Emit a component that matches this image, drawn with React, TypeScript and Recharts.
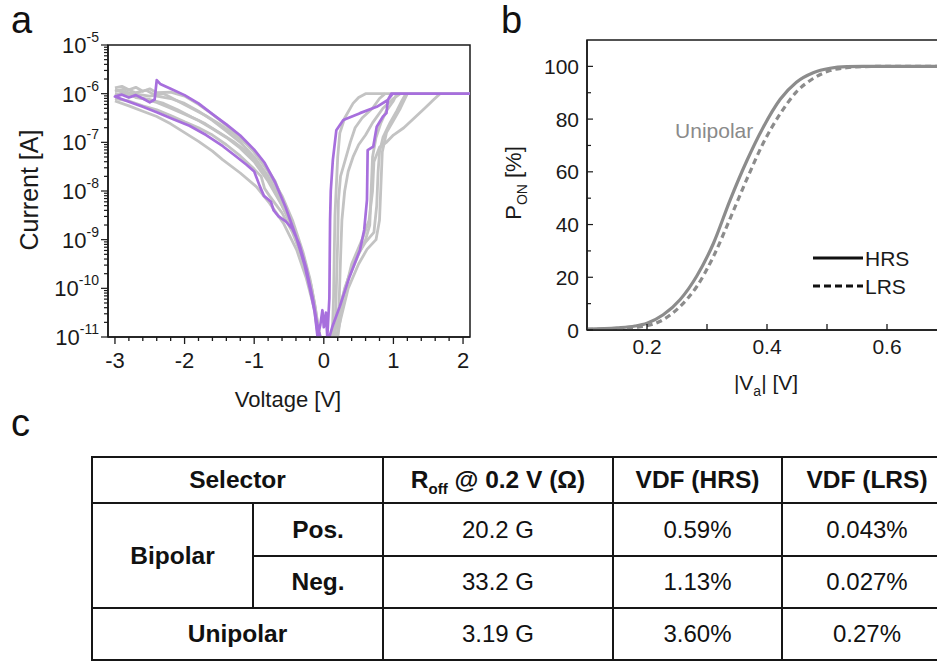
import React from 'react';
import { LineChart, Line, XAxis, YAxis, ReferenceArea, ReferenceDot, Legend, Label } from 'recharts';

const FONT = '"Liberation Sans", Arial, Helvetica, sans-serif';
const INK = '#1a1a1a';
const PURPLE = '#a76fdd';
const GRAY = '#c3c3c3';
const CURVE_GRAY = '#8c8c8c';

// ---------- Panel a : I-V cycles, [voltage (V), log10(current / A)] ----------
const purpleCycle: [number, number][] = [
  [-0.05, -11.0], [-0.1, -10.7], [-0.16, -10.2], [-0.25, -9.6], [-0.35, -9.1], [-0.45, -8.78],
  [-0.55, -8.62], [-0.65, -8.52], [-0.72, -8.4], [-0.76, -8.22], [-0.8, -8.17], [-0.86, -8.1],
  [-0.92, -7.9], [-1.0, -7.6], [-1.11, -7.46], [-1.25, -7.3], [-1.45, -7.08], [-1.69, -6.85],
  [-1.93, -6.66], [-2.17, -6.52], [-2.4, -6.38], [-2.6, -6.27], [-2.83, -6.15], [-3.0, -6.06],
  [-2.9, -6.02], [-2.8, -6.08], [-2.7, -6.03], [-2.6, -6.1], [-2.5, -6.18], [-2.43, -6.12],
  [-2.4, -5.72], [-2.35, -5.8], [-2.2, -5.9], [-2.0, -6.03], [-1.8, -6.2], [-1.6, -6.42],
  [-1.4, -6.63], [-1.2, -6.86], [-1.0, -7.15], [-0.85, -7.42], [-0.7, -7.82], [-0.55, -8.33],
  [-0.4, -8.93], [-0.28, -9.5], [-0.2, -10.0], [-0.13, -10.5], [-0.09, -11.0], [-0.05, -10.75],
  [-0.02, -10.45], [0.0, -10.8], [0.03, -10.5], [0.05, -11.0],
  [0.08, -10.2], [0.09, -8.6], [0.1, -8.0], [0.13, -7.36], [0.18, -6.75], [0.28, -6.54],
  [0.52, -6.4], [0.76, -6.27], [0.92, -6.13], [0.99, -6.0], [2.1, -6.0], [0.97, -6.0],
  [0.92, -6.13], [0.9, -6.4], [0.85, -6.47], [0.76, -6.68], [0.71, -7.09], [0.63, -7.16],
  [0.62, -8.18], [0.58, -8.8], [0.52, -9.21], [0.37, -9.76], [0.23, -10.37], [0.12, -10.8],
  [0.08, -11.0],
];

const grayNeg1: [number, number][] = [
  [-3.0, -5.88], [-2.9, -5.85], [-2.8, -5.92], [-2.7, -5.87], [-2.6, -5.95], [-2.5, -5.9],
  [-2.4, -5.98], [-2.2, -5.97], [-2.0, -6.05], [-1.8, -6.22], [-1.6, -6.42], [-1.4, -6.65],
  [-1.2, -6.9], [-1.0, -7.2], [-0.8, -7.6], [-0.6, -8.1], [-0.45, -8.6], [-0.3, -9.25],
  [-0.2, -9.8], [-0.12, -10.4], [-0.07, -11.0],
];
const grayNeg2: [number, number][] = [
  [-3.0, -5.95], [-2.85, -5.9], [-2.7, -5.98], [-2.55, -5.93], [-2.4, -6.05], [-2.2, -6.1],
  [-2.0, -6.2], [-1.8, -6.36], [-1.6, -6.55], [-1.4, -6.77], [-1.2, -7.0], [-1.0, -7.3],
  [-0.8, -7.7], [-0.6, -8.2], [-0.45, -8.65], [-0.3, -9.3], [-0.18, -9.95], [-0.1, -10.6],
  [-0.06, -11.0],
];
const grayNeg3: [number, number][] = [
  [-3.0, -6.0], [-2.8, -6.02], [-2.6, -6.1], [-2.4, -6.18], [-2.2, -6.3], [-2.0, -6.42],
  [-1.8, -6.55], [-1.6, -6.72], [-1.4, -6.9], [-1.2, -7.12], [-1.0, -7.4], [-0.8, -7.8],
  [-0.6, -8.3], [-0.45, -8.75], [-0.3, -9.35], [-0.18, -10.0], [-0.1, -10.65], [-0.05, -11.0],
];
const grayNeg4: [number, number][] = [
  [-3.0, -6.1], [-2.8, -6.15], [-2.6, -6.25], [-2.4, -6.33], [-2.2, -6.45], [-2.0, -6.58],
  [-1.8, -6.7], [-1.6, -6.85], [-1.4, -7.05], [-1.2, -7.28], [-1.0, -7.55], [-0.9, -7.7],
  [-0.85, -7.95], [-0.78, -8.1], [-0.6, -8.45], [-0.45, -8.85], [-0.3, -9.4], [-0.15, -10.2],
  [-0.08, -11.0],
];
const grayNeg5: [number, number][] = [
  [-3.0, -6.15], [-2.8, -6.25], [-2.6, -6.36], [-2.4, -6.47], [-2.2, -6.62], [-2.0, -6.8],
  [-1.8, -6.98], [-1.6, -7.18], [-1.45, -7.36], [-1.2, -7.63], [-0.97, -7.91], [-0.78, -8.25],
  [-0.58, -8.66], [-0.39, -9.21], [-0.25, -9.8], [-0.14, -10.4], [-0.08, -11.0],
];
const grayNeg6: [number, number][] = [
  [-3.0, -5.92], [-2.75, -6.0], [-2.5, -6.05], [-2.3, -6.0], [-2.1, -6.15], [-1.9, -6.3],
  [-1.7, -6.45], [-1.5, -6.62], [-1.3, -6.82], [-1.1, -7.05], [-0.9, -7.35], [-0.7, -7.8],
  [-0.5, -8.5], [-0.35, -9.1], [-0.2, -9.9], [-0.1, -10.7], [-0.06, -11.0],
];
const grayNeg7: [number, number][] = [
  [-3.0, -6.05], [-2.85, -5.95], [-2.7, -6.08], [-2.5, -6.12], [-2.3, -6.2], [-2.1, -6.33],
  [-1.9, -6.48], [-1.7, -6.62], [-1.5, -6.8], [-1.3, -6.98], [-1.1, -7.2], [-0.95, -7.45],
  [-0.8, -7.75], [-0.65, -8.15], [-0.5, -8.6], [-0.35, -9.2], [-0.22, -9.85], [-0.12, -10.5],
  [-0.07, -11.0],
];
const grayPos1: [number, number][] = [
  [0.12, -11.0], [0.14, -10.2], [0.15, -9.3], [0.16, -8.5], [0.18, -7.9], [0.2, -7.3],
  [0.23, -6.81], [0.3, -6.5], [0.42, -6.2], [0.5, -6.08], [0.6, -6.0], [2.1, -6.0],
];
const grayPos2: [number, number][] = [
  [0.16, -11.0], [0.18, -10.0], [0.2, -9.0], [0.21, -8.2], [0.24, -7.7], [0.3, -7.4],
  [0.38, -7.0], [0.45, -6.7], [0.55, -6.5], [0.7, -6.3], [0.8, -6.1], [0.88, -6.0],
];
const grayPos3: [number, number][] = [
  [0.2, -11.0], [0.22, -10.3], [0.24, -9.4], [0.26, -8.6], [0.3, -8.0], [0.35, -7.6],
  [0.42, -7.3], [0.5, -7.05], [0.6, -6.85], [0.7, -6.6], [0.85, -6.3], [1.0, -6.1], [1.1, -6.0],
];
const grayPos4: [number, number][] = [
  [0.2, -11.0], [0.28, -10.2], [0.4, -9.5], [0.55, -9.0], [0.65, -8.6], [0.7, -8.0],
  [0.72, -7.4], [0.8, -7.1], [0.9, -7.0], [1.0, -6.85], [1.15, -6.7], [1.3, -6.5],
  [1.45, -6.3], [1.58, -6.12], [1.67, -6.0],
];
const grayPos5: [number, number][] = [
  [0.1, -11.0], [0.2, -10.5], [0.35, -9.8], [0.5, -9.3], [0.6, -9.0], [0.66, -8.7],
  [0.68, -8.0], [0.7, -7.3], [0.75, -6.9], [0.82, -6.6], [0.9, -6.35], [1.0, -6.15], [1.05, -6.0],
];
const grayPos6: [number, number][] = [
  [0.14, -11.0], [0.3, -10.0], [0.45, -9.4], [0.6, -9.05], [0.72, -8.85], [0.76, -8.3],
  [0.78, -7.6], [0.8, -7.2], [0.85, -6.9], [0.95, -6.6], [1.05, -6.35], [1.12, -6.15], [1.18, -6.0],
];
const grayPos7: [number, number][] = [
  [0.18, -11.0], [0.35, -10.0], [0.5, -9.5], [0.62, -9.2], [0.75, -9.0], [0.8, -8.6],
  [0.82, -7.9], [0.84, -7.2], [0.9, -6.8], [1.0, -6.55], [1.1, -6.3], [1.2, -6.0],
];

const grayCycles = [grayNeg1, grayNeg2, grayNeg3, grayNeg4, grayNeg5, grayNeg6, grayNeg7,
  grayPos1, grayPos2, grayPos3, grayPos4, grayPos5, grayPos6, grayPos7];

const voltageMajorTicks = [-3, -2, -1, 0, 1, 2];
const currentExponents = [-11, -10, -9, -8, -7, -6, -5];

// ---------- Panel b : switching probability ----------
const vaVoltage = [0.10, 0.15, 0.18, 0.20, 0.227, 0.255, 0.283, 0.311, 0.338, 0.366, 0.394, 0.422, 0.449, 0.477, 0.505, 0.533, 0.56, 0.6, 0.7, 0.8];
const hrsPon = [0.3, 0.8, 1.5, 2.6, 5.8, 11.5, 20.5, 33, 49, 64, 77, 87.5, 94, 97.6, 99.3, 99.9, 100, 100, 100, 100];
const lrsPon = [0.2, 0.5, 1.0, 1.6, 3.9, 8.9, 16.5, 28, 42, 57, 71, 82, 90.3, 95.4, 98.4, 99.5, 99.9, 100, 100, 100];
const ponMajorTicks = [0, 20, 40, 60, 80, 100];
const vaMajorTicks = [0.2, 0.4, 0.6];

// ---------- Panel c : table ----------
const headerLabels = ['Selector', 'R', 'VDF (HRS)', 'VDF (LRS)'];
const bipolarPolarities = ['Pos.', 'Neg.'];
const roffValues = ['20.2 G', '33.2 G', '3.19 G'];
const vdfHrsValues = ['0.59%', '1.13%', '3.60%'];
const vdfLrsValues = ['0.043%', '0.027%', '0.27%'];

// derived tick lists (major + minor)
const aXTicks = Array.from({ length: 26 }, (_, i) => Math.round((-3 + i * 0.2) * 10) / 10);
const aYTicks = currentExponents.flatMap((n) =>
  n === -5 ? [n] : [n, ...[2, 3, 4, 5, 6, 7, 8, 9].map((k) => n + Math.log10(k))]
);
const bYTicks = Array.from({ length: 11 }, (_, i) => i * 10);
const bXTicks = [0.2, 0.3, 0.4, 0.5, 0.6, 0.7];

const toPts = (arr: [number, number][]) => arr.map(([v, logI]) => ({ v, logI }));
const hrsData = vaVoltage.map((v, i) => ({ v, p: hrsPon[i] }));
const lrsData = vaVoltage.map((v, i) => ({ v, p: lrsPon[i] }));

const isInt = (v: number) => Math.abs(v - Math.round(v)) < 1e-6;

const AXTick = (props: any) => {
  const { x, y, payload } = props;
  const v = payload.value;
  const major = voltageMajorTicks.some((t) => Math.abs(t - v) < 1e-6);
  return (
    <g>
      <line x1={x} y1={y} x2={x} y2={y + (major ? 7 : 4)} stroke={INK} strokeWidth={1.3} />
      {major && (
        <text x={x} y={y + 31} textAnchor="middle" fontSize={22} fontFamily={FONT} fill={INK}>
          {v}
        </text>
      )}
    </g>
  );
};

const AYTick = (props: any) => {
  const { x, y, payload } = props;
  const v = payload.value;
  const major = isInt(v);
  return (
    <g>
      <line x1={x} y1={y} x2={x - (major ? 7 : 4)} y2={y} stroke={INK} strokeWidth={1.2} />
      {major && (
        <text x={x - 9} y={y + 8} textAnchor="end" fontSize={22} fontFamily={FONT} fill={INK}>
          10
          <tspan dy={-11} fontSize={14}>{String(Math.round(v))}</tspan>
        </text>
      )}
    </g>
  );
};

const BXTick = (props: any) => {
  const { x, y, payload } = props;
  const v = payload.value;
  const major = vaMajorTicks.some((t) => Math.abs(t - v) < 1e-6);
  return (
    <g>
      <line x1={x} y1={y} x2={x} y2={y - 6} stroke={INK} strokeWidth={1.3} />
      {major && (
        <text x={x} y={y + 24} textAnchor="middle" fontSize={21} fontFamily={FONT} fill={INK}>
          {v.toFixed(1)}
        </text>
      )}
    </g>
  );
};

const BYTick = (props: any) => {
  const { x, y, payload } = props;
  const v = payload.value;
  const major = ponMajorTicks.includes(v);
  return (
    <g>
      <line x1={x} y1={y} x2={x + (major ? 6 : 4)} y2={y} stroke={INK} strokeWidth={1.2} />
      {major && (
        <text x={x - 8} y={y + 7.5} textAnchor="end" fontSize={21} fontFamily={FONT} fill={INK}>
          {v}
        </text>
      )}
    </g>
  );
};

const LegendB = () => (
  <svg width={120} height={60} style={{ display: 'block' }}>
    <line x1={0} y1={10} x2={50} y2={10} stroke="#111" strokeWidth={3} />
    <text x={52} y={17.5} fontSize={21} fontFamily={FONT} fill={INK}>HRS</text>
    <line x1={0} y1={38} x2={50} y2={38} stroke="#111" strokeWidth={3} strokeDasharray="7 4" />
    <text x={52} y={45.5} fontSize={21} fontFamily={FONT} fill={INK}>LRS</text>
  </svg>
);

const cellBorder = '2px solid #161616';
const tdBase: React.CSSProperties = {
  border: cellBorder,
  textAlign: 'center',
  verticalAlign: 'middle',
  padding: 0,
  color: '#111',
  fontFamily: FONT,
  whiteSpace: 'nowrap',
};
const tdBold: React.CSSProperties = { ...tdBase, fontWeight: 700, fontSize: 24.5 };
const tdVal: React.CSSProperties = { ...tdBase, fontWeight: 400, fontSize: 24 };

export default function App() {
  return (
    <div
      style={{
        position: 'absolute',
        left: 0,
        top: 0,
        width: 937,
        height: 662,
        overflow: 'hidden',
        background: '#fff',
        fontFamily: FONT,
      }}
    >
      {/* Panel a */}
      <div style={{ position: 'absolute', left: 0, top: 0 }}>
        <LineChart width={480} height={420} margin={{ top: 45, right: 10, bottom: 43, left: 48 }}>
          <XAxis
            type="number"
            dataKey="v"
            domain={[-3.1, 2.1]}
            allowDataOverflow
            ticks={aXTicks}
            interval={0}
            tickSize={0}
            tickMargin={0}
            tickLine={false}
            tick={<AXTick />}
            axisLine={{ stroke: INK, strokeWidth: 1.5 }}
            height={40}
          >
            <Label
              content={() => (
                <text x={288} y={407} textAnchor="middle" fontSize={22} fontFamily={FONT} fill={INK}>
                  Voltage [V]
                </text>
              )}
            />
          </XAxis>
          <YAxis
            type="number"
            dataKey="logI"
            domain={[-11, -5]}
            allowDataOverflow
            ticks={aYTicks}
            interval={0}
            tickSize={0}
            tickMargin={0}
            tickLine={false}
            tick={<AYTick />}
            axisLine={{ stroke: INK, strokeWidth: 1.5 }}
            width={60}
          >
            <Label
              content={() => (
                <text
                  transform="translate(38,190) rotate(-90)"
                  textAnchor="middle"
                  fontSize={25}
                  fontFamily={FONT}
                  fill={INK}
                >
                  Current [A]
                </text>
              )}
            />
          </YAxis>
          {grayCycles.map((c, idx) => (
            <Line
              key={'g' + idx}
              data={toPts(c)}
              dataKey="logI"
              type="linear"
              stroke={GRAY}
              strokeWidth={2.8}
              dot={false}
              activeDot={false}
              isAnimationActive={false}
              strokeLinejoin="round"
            />
          ))}
          <Line
            data={toPts(purpleCycle)}
            dataKey="logI"
            type="linear"
            stroke={PURPLE}
            strokeWidth={2.7}
            dot={false}
            activeDot={false}
            isAnimationActive={false}
            strokeLinejoin="round"
          />
          <ReferenceArea
            x1={-3.1}
            x2={2.1}
            y1={-11}
            y2={-5}
            fill="none"
            fillOpacity={0}
            stroke={INK}
            strokeWidth={1.5}
            ifOverflow="visible"
          />
        </LineChart>
      </div>

      {/* Panel b */}
      <div style={{ position: 'absolute', left: 480, top: 0 }}>
        <LineChart width={547} height={410} margin={{ top: 40, right: 20, bottom: 40, left: 47 }}>
          <XAxis
            type="number"
            dataKey="v"
            domain={[0.1, 0.8]}
            allowDataOverflow
            ticks={bXTicks}
            interval={0}
            tickSize={0}
            tickMargin={0}
            tickLine={false}
            tick={<BXTick />}
            axisLine={{ stroke: INK, strokeWidth: 1.5 }}
            height={40}
          >
            <Label
              content={() => (
                <text x={286} y={390} textAnchor="middle" fontSize={21} fontFamily={FONT} fill={INK}>
                  |V
                  <tspan dy={6} fontSize={14}>a</tspan>
                  <tspan dy={-6}>| [V]</tspan>
                </text>
              )}
            />
          </XAxis>
          <YAxis
            type="number"
            dataKey="p"
            domain={[0, 110]}
            allowDataOverflow
            ticks={bYTicks}
            interval={0}
            tickSize={0}
            tickMargin={0}
            tickLine={false}
            tick={<BYTick />}
            axisLine={{ stroke: INK, strokeWidth: 1.5 }}
            width={60}
          >
            <Label
              content={() => (
                <text
                  transform="translate(41,183) rotate(-90)"
                  textAnchor="middle"
                  fontSize={22}
                  fontFamily={FONT}
                  fill={INK}
                >
                  P
                  <tspan dy={6} fontSize={14}>ON</tspan>
                  <tspan dy={-6}> [%]</tspan>
                </text>
              )}
            />
          </YAxis>
          <Line
            data={lrsData}
            dataKey="p"
            type="monotone"
            stroke={CURVE_GRAY}
            strokeWidth={3.2}
            strokeDasharray="6 4"
            dot={false}
            activeDot={false}
            isAnimationActive={false}
            name="LRS"
          />
          <Line
            data={hrsData}
            dataKey="p"
            type="monotone"
            stroke={CURVE_GRAY}
            strokeWidth={3.2}
            dot={false}
            activeDot={false}
            isAnimationActive={false}
            name="HRS"
          />
          <ReferenceArea
            x1={0.1}
            x2={0.8}
            y1={0}
            y2={110}
            fill="none"
            fillOpacity={0}
            stroke={INK}
            strokeWidth={1.5}
            ifOverflow="visible"
          />
          <ReferenceDot
            x={0.312}
            y={75.8}
            r={0}
            fill="none"
            stroke="none"
            ifOverflow="visible"
            label={{ value: 'Unipolar', position: 'center', fill: '#8a8a8a', fontSize: 21, fontFamily: FONT }}
          />
          <Legend
            layout="horizontal"
            verticalAlign="middle"
            align="center"
            content={() => <LegendB />}
            wrapperStyle={{ left: 333, top: 248, width: 120, height: 60 }}
          />
        </LineChart>
      </div>

      {/* Panel letters */}
      <svg
        width={937}
        height={662}
        style={{ position: 'absolute', left: 0, top: 0, pointerEvents: 'none' }}
      >
        <text x={11} y={33} fontSize={38} fontFamily={FONT} fill="#111">a</text>
        <text x={501} y={33} fontSize={38} fontFamily={FONT} fill="#111">b</text>
        <text x={11} y={436} fontSize={38} fontFamily={FONT} fill="#111">c</text>
      </svg>

      {/* Panel c: table */}
      <table
        style={{
          position: 'absolute',
          left: 91,
          top: 456,
          borderCollapse: 'collapse',
          tableLayout: 'fixed',
          width: 860,
        }}
      >
        <colgroup>
          <col style={{ width: 161 }} />
          <col style={{ width: 130 }} />
          <col style={{ width: 230 }} />
          <col style={{ width: 169 }} />
          <col style={{ width: 170 }} />
        </colgroup>
        <tbody>
          <tr style={{ height: 46 }}>
            <td colSpan={2} style={tdBold}>{headerLabels[0]}</td>
            <td style={tdBold}>
              {headerLabels[1]}
              <sub style={{ fontSize: 15, lineHeight: 0 }}>off</sub> @ 0.2 V (Ω)
            </td>
            <td style={tdBold}>{headerLabels[2]}</td>
            <td style={tdBold}>{headerLabels[3]}</td>
          </tr>
          <tr style={{ height: 53 }}>
            <td rowSpan={2} style={tdBold}>Bipolar</td>
            <td style={tdBold}>{bipolarPolarities[0]}</td>
            <td style={tdVal}>{roffValues[0]}</td>
            <td style={tdVal}>{vdfHrsValues[0]}</td>
            <td style={tdVal}>{vdfLrsValues[0]}</td>
          </tr>
          <tr style={{ height: 52 }}>
            <td style={tdBold}>{bipolarPolarities[1]}</td>
            <td style={tdVal}>{roffValues[1]}</td>
            <td style={tdVal}>{vdfHrsValues[1]}</td>
            <td style={tdVal}>{vdfLrsValues[1]}</td>
          </tr>
          <tr style={{ height: 52 }}>
            <td colSpan={2} style={tdBold}>Unipolar</td>
            <td style={tdVal}>{roffValues[2]}</td>
            <td style={tdVal}>{vdfHrsValues[2]}</td>
            <td style={tdVal}>{vdfLrsValues[2]}</td>
          </tr>
        </tbody>
      </table>
    </div>
  );
}
